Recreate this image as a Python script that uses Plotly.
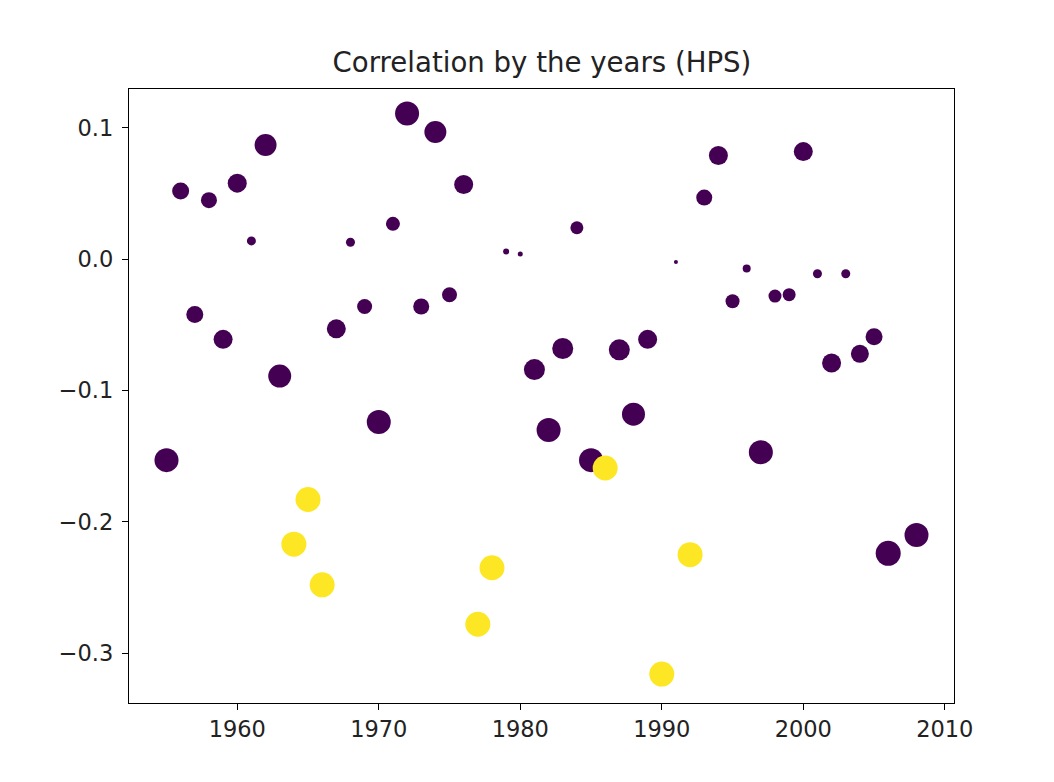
import plotly.graph_objects as go

# values
years = [1955, 1956, 1957, 1958, 1959, 1960, 1961, 1962, 1963, 1964,
         1965, 1966, 1967, 1968, 1969, 1970, 1971, 1972, 1973, 1974,
         1975, 1976, 1977, 1978, 1979, 1980, 1981, 1982, 1983, 1984,
         1985, 1986, 1987, 1988, 1989, 1990, 1991, 1992, 1993, 1994,
         1995, 1996, 1997, 1998, 1999, 2000, 2001, 2002, 2003, 2004,
         2005, 2006, 2008]
corr = [-0.153, 0.052, -0.042, 0.045, -0.061, 0.058, 0.014, 0.087, -0.089, -0.217,
        -0.183, -0.248, -0.053, 0.013, -0.036, -0.124, 0.027, 0.111, -0.036, 0.097,
        -0.027, 0.057, -0.278, -0.235, 0.006, 0.004, -0.084, -0.130, -0.068, 0.024,
        -0.153, -0.159, -0.069, -0.118, -0.061, -0.316, -0.002, -0.225, 0.047, 0.079,
        -0.032, -0.007, -0.147, -0.028, -0.027, 0.082, -0.011, -0.079, -0.011, -0.072,
        -0.059, -0.224, -0.210]
# third variable shown as marker size
weight = [24, 17, 17, 16, 19, 19, 9, 22, 23, 25,
          25, 25, 19, 9, 15, 24, 14, 24, 16, 22,
          15, 19, 25, 25, 6, 5, 21, 24, 21, 13,
          24, 25, 21, 23, 19, 25, 4, 25, 16, 19,
          14, 8, 24, 13, 13, 19, 9, 19, 9, 18,
          17, 25, 24]
# 1 = highlighted (yellow), 0 = others (purple)
flag = [0, 0, 0, 0, 0, 0, 0, 0, 0, 1,
        1, 1, 0, 0, 0, 0, 0, 0, 0, 0,
        0, 0, 1, 1, 0, 0, 0, 0, 0, 0,
        0, 1, 0, 0, 0, 1, 0, 1, 0, 0,
        0, 0, 0, 0, 0, 0, 0, 0, 0, 0,
        0, 0, 0]

fig = go.Figure(go.Scatter(
    x=years, y=corr, mode='markers',
    marker=dict(size=weight, color=flag,
                colorscale=[[0, '#440154'], [1, '#fde725']],
                cmin=0, cmax=1, opacity=1, line=dict(width=0)),
    showlegend=False,
))

font = 'DejaVu Sans, Liberation Sans, sans-serif'
axis = dict(showline=True, mirror=True, linecolor='black', linewidth=1.3,
            ticks='outside', ticklen=6, tickwidth=1.3, tickcolor='black',
            showgrid=False, zeroline=False,
            tickfont=dict(family=font, size=22.5, color='#222'))

# page body has an 8px margin, so the figure is 8px smaller
fig.update_layout(
    width=1046, height=774,
    margin=dict(l=121, r=100, t=81, b=79),
    plot_bgcolor='white', paper_bgcolor='white',
    title=dict(text='Correlation by the years (HPS)', x=0.5105, xanchor='center',
               y=1 - 54 / 774, yanchor='middle', yref='container',
               font=dict(family=font, size=27.6, color='#222')),
    xaxis=dict(axis, range=[1952.35, 2010.65], tickvals=[1960, 1970, 1980, 1990, 2000, 2010]),
    yaxis=dict(axis, range=[-0.338, 0.1297], tickvals=[-0.3, -0.2, -0.1, 0.0, 0.1],
               tickformat='.1f', ticklabelstandoff=4),
)

fig.write_html("out.html")
